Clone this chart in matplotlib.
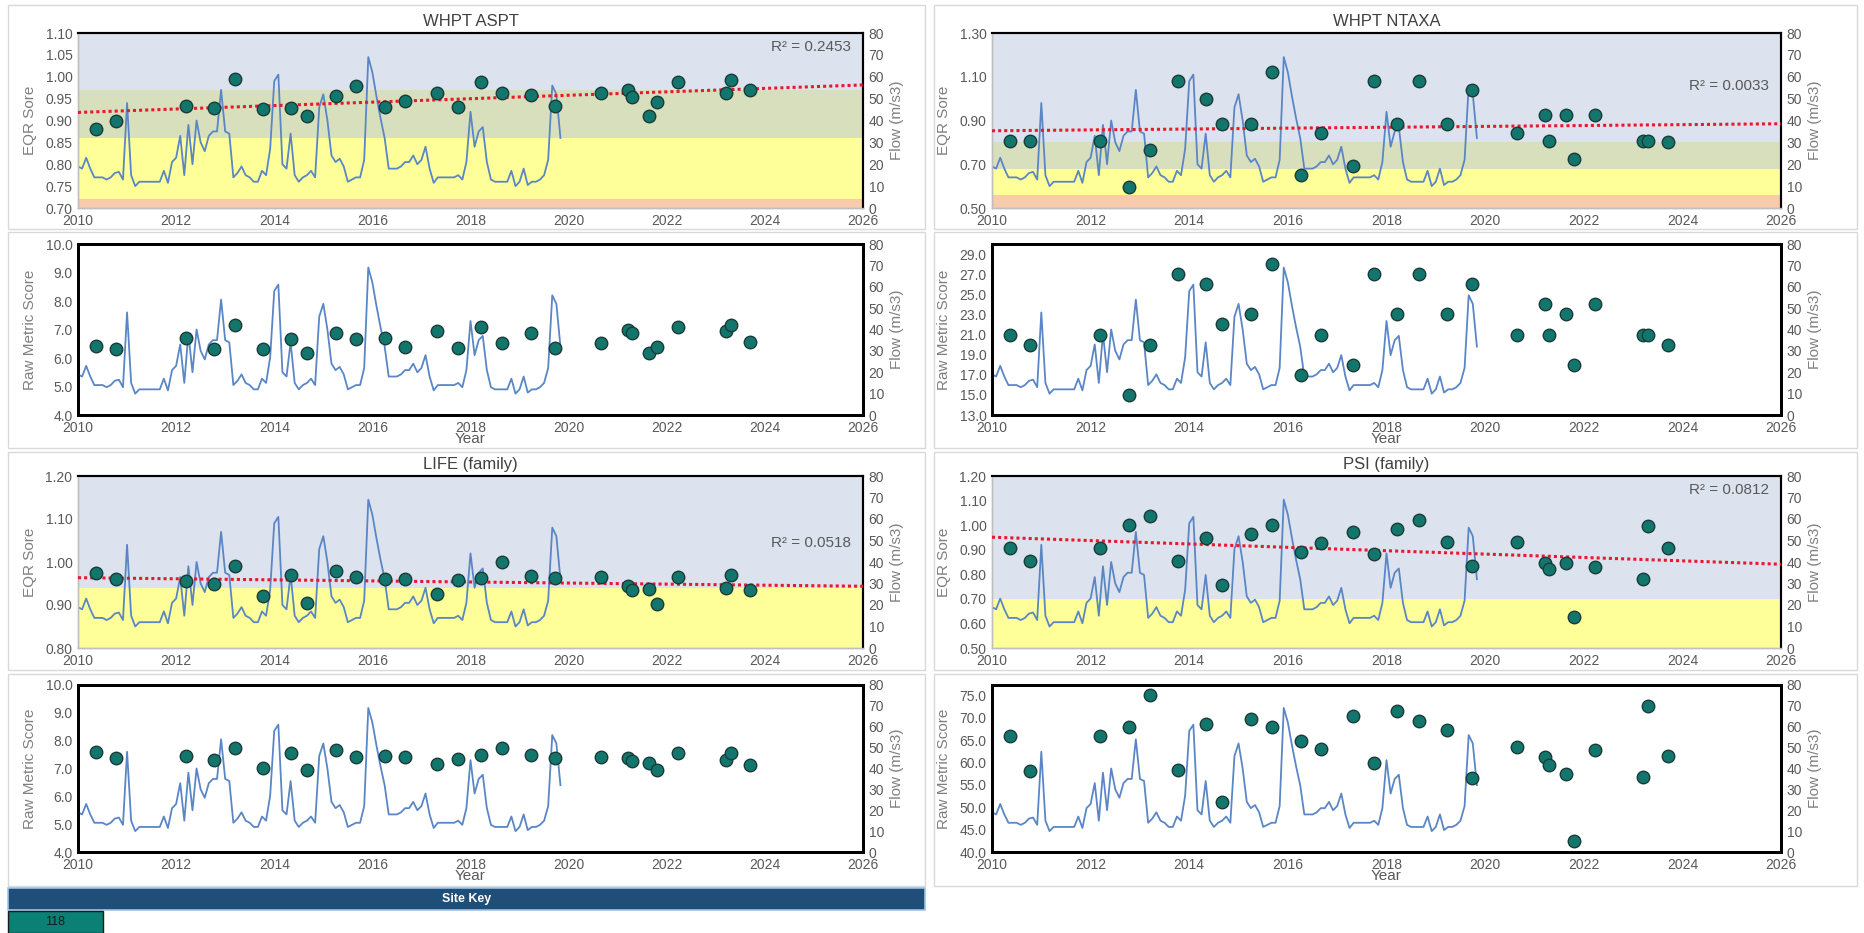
import numpy as np
import matplotlib.pyplot as plt
from matplotlib.patches import Rectangle

plt.rcParams['font.family'] = ['Liberation Sans Narrow', 'Liberation Sans', 'DejaVu Sans']

# monthly flow (m/s3), Jan 2010 - Nov 2019
flow = [19, 18, 23, 18, 14, 14, 14, 13, 14, 16, 16.5, 13,
        48, 15, 10, 12, 12, 12, 12, 12, 12, 17, 11.5, 21,
        23, 33, 15, 38, 20, 40, 30, 26, 33, 35, 35, 54,
        35, 34, 14, 16, 19, 15, 14, 12, 12, 17, 15, 27,
        58, 61, 20, 18, 34, 15, 12, 14, 15, 17, 14, 46,
        52, 40, 24, 21, 22.5, 19, 12, 13, 14, 14, 22, 69,
        62, 51, 41, 32, 18, 18, 18, 19, 21, 21, 24, 20,
        22, 28, 18, 11.5, 14, 14, 14, 14, 14, 15, 13, 21,
        44, 28, 35, 37, 21, 13, 12, 12, 12, 12, 17, 10,
        12, 18, 10.5, 12, 12, 13, 15, 22, 56, 52, 32]
flow_years = 2010 + np.arange(len(flow)) / 12

# sample dates (decimal years)
sample_years = [2010.37, 2010.78, 2012.2, 2012.77, 2013.2, 2013.77, 2014.34, 2014.67,
                2015.26, 2015.67, 2016.26, 2016.67, 2017.32, 2017.74, 2018.22, 2018.65,
                2019.23, 2019.73, 2020.65, 2021.22, 2021.3, 2021.63, 2021.8, 2022.22,
                2023.2, 2023.3, 2023.7]

aspt_eqr = [0.88, 0.90, 0.934, 0.929, 0.996, 0.926, 0.928, 0.91, 0.955, 0.98, 0.932, 0.944,
            0.962, 0.932, 0.987, 0.964, 0.959, 0.934, 0.963, 0.97, 0.954, 0.91, 0.943, 0.987,
            0.964, 0.993, 0.97]
aspt_raw = [6.42, 6.30, 6.69, 6.31, 7.16, 6.31, 6.67, 6.16, 6.87, 6.66, 6.69, 6.37,
            6.93, 6.36, 7.08, 6.51, 6.89, 6.35, 6.51, 6.99, 6.87, 6.18, 6.37, 7.08,
            6.96, 7.16, 6.57]

ntaxa_eqr = [0.805, 0.805, 0.805, 0.598, 0.764, 1.08, 0.998, 0.882, 0.882, 1.122, 0.651, 0.843,
             0.693, 1.08, 0.882, 1.08, 0.882, 1.041, 0.843, 0.923, 0.805, 0.923, 0.724, 0.923,
             0.805, 0.805, 0.80]
ntaxa_raw = [21, 20, 21, 15, 20, 27, 26, 22, 23, 28, 17, 21, 18, 27, 23, 27, 23, 26,
             21, 24, 21, 23, 18, 24, 21, 21, 20]

life_eqr = [0.975, 0.96, 0.955, 0.95, 0.99, 0.92, 0.97, 0.905, 0.98, 0.965, 0.96, 0.96,
            0.925, 0.958, 0.962, 1.0, 0.967, 0.962, 0.965, 0.945, 0.935, 0.937, 0.902, 0.965,
            0.94, 0.97, 0.935]
life_raw = [7.6, 7.36, 7.44, 7.3, 7.72, 7.02, 7.56, 6.94, 7.66, 7.4, 7.44, 7.4,
            7.16, 7.34, 7.5, 7.72, 7.5, 7.36, 7.4, 7.36, 7.28, 7.18, 6.94, 7.54,
            7.3, 7.56, 7.12]

psi_eqr = [0.909, 0.853, 0.909, 1.0, 1.036, 0.856, 0.949, 0.756, 0.964, 1.0, 0.889, 0.927,
           0.973, 0.883, 0.984, 1.019, 0.931, 0.833, 0.931, 0.847, 0.82, 0.847, 0.627, 0.831,
           0.78, 0.997, 0.909]
psi_raw = [65.9, 58.0, 65.8, 68.0, 75.0, 58.4, 68.7, 51.2, 69.7, 68.0, 64.7, 63.0,
           70.4, 59.9, 71.6, 69.3, 67.3, 56.5, 63.4, 61.2, 59.5, 57.5, 42.4, 62.8,
           56.7, 72.6, 61.5]

BLUE, GREEN, YELLOW, ORANGE = '#dce3ee', '#d8dfbd', '#ffff99', '#f8cbad'
GREY = '#7f7f7f'
TXT = '#595959'
DOT_FACE, DOT_EDGE = '#12766c', '#1b3b38'
FLOW_C = '#5a86c5'

fig = plt.figure(figsize=(18.65, 9.33), dpi=100)
W, H = 1865, 933


def frac(x0, y0, x1, y1):
    return [x0 / W, 1 - y1 / H, (x1 - x0) / W, (y1 - y0) / H]


def common(ax, ax2, ax3, ylim):
    ax.set_xlim(2010, 2026)
    ax.set_xticks(range(2010, 2027, 2))
    ax.set_ylim(ylim)
    ax3.set_ylim(ylim)
    ax3.axis('off')
    ax2.set_ylim(0, 80)
    ax2.set_yticks(range(0, 81, 10))
    for a in (ax, ax2):
        a.tick_params(length=0, labelsize=10, colors=TXT, pad=4)
    ax2.set_ylabel('Flow (m/s3)', color=GREY, fontsize=11, labelpad=4)
    ax2.plot(flow_years, flow, color=FLOW_C, lw=1.3)


def dots(ax3, vals):
    ax3.plot(sample_years, vals, 'o', ms=9, mfc=DOT_FACE, mec=DOT_EDGE, mew=1.0, zorder=5)


def eqr_panel(box, title, edges, colors, ylim, yticks, vals, r2, r2_y):
    ax = fig.add_axes(frac(*box))
    for lo, hi, c in zip(edges[:-1], edges[1:], colors):
        ax.axhspan(lo, hi, color=c, lw=0, zorder=0)
    ax2 = ax.twinx()
    ax3 = ax.twinx()
    common(ax, ax2, ax3, ylim)
    ax.set_yticks(yticks)
    ax.set_yticklabels([f'{t:.2f}' for t in yticks])
    ax.set_ylabel('EQR Sore', color=GREY, fontsize=11, labelpad=6)
    ax.set_title(title, fontsize=12, color='#404040', pad=5)
    for a in (ax, ax2, ax3):
        for s in ('left', 'bottom'):
            a.spines[s].set_color('#bfbfbf')
            a.spines[s].set_linewidth(1)
        for s in ('top', 'right'):
            a.spines[s].set_color('black')
            a.spines[s].set_linewidth(1.5)
    coef = np.polyfit(sample_years, vals, 1)
    xs = np.array([2010, 2026])
    ax3.plot(xs, np.polyval(coef, xs), color='#e8192c', lw=2.2, ls=(0, (1, 1)), zorder=4)
    dots(ax3, vals)
    ax3.text(0.985, r2_y, f'R\u00b2 = {r2}', transform=ax3.transAxes, ha='right', va='center',
             fontsize=11, color=TXT)


def raw_panel(box, ylim, yticks, vals):
    ax = fig.add_axes(frac(*box))
    ax2 = ax.twinx()
    ax3 = ax.twinx()
    common(ax, ax2, ax3, ylim)
    ax.set_yticks(yticks)
    ax.set_yticklabels([f'{t:.1f}' for t in yticks])
    ax.set_ylabel('Raw Metric Score', color=GREY, fontsize=11, labelpad=6)
    ax.set_xlabel('Year', color=TXT, fontsize=11, labelpad=-2)
    for a in (ax, ax2, ax3):
        for s in a.spines.values():
            s.set_color('black')
            s.set_linewidth(2)
    dots(ax3, vals)


LX0, LX1 = 78, 863
RX0, RX1 = 992, 1781
R1, R2, R3, R4 = (33, 208), (244, 415), (476, 648), (685, 852)

eqr_panel((LX0, R1[0], LX1, R1[1]), 'WHPT ASPT', [0.70, 0.72, 0.86, 0.97, 1.10],
          [ORANGE, YELLOW, GREEN, BLUE], (0.70, 1.10), np.arange(0.70, 1.101, 0.05),
          aspt_eqr, '0.2453', 0.92)
raw_panel((LX0, R2[0], LX1, R2[1]), (4.0, 10.0), np.arange(4.0, 10.01, 1.0), aspt_raw)

eqr_panel((RX0, R1[0], RX1, R1[1]), 'WHPT NTAXA', [0.50, 0.56, 0.68, 0.80, 1.30],
          [ORANGE, YELLOW, GREEN, BLUE], (0.50, 1.30), np.arange(0.50, 1.301, 0.20),
          ntaxa_eqr, '0.0033', 0.70)
raw_panel((RX0, R2[0], RX1, R2[1]), (13.0, 30.0), np.arange(13.0, 29.01, 2.0), ntaxa_raw)

eqr_panel((LX0, R3[0], LX1, R3[1]), 'LIFE (family)', [0.80, 0.94, 1.20],
          [YELLOW, BLUE], (0.80, 1.20), np.arange(0.80, 1.201, 0.10),
          life_eqr, '0.0518', 0.61)
raw_panel((LX0, R4[0], LX1, R4[1]), (4.0, 10.0), np.arange(4.0, 10.01, 1.0), life_raw)

eqr_panel((RX0, R3[0], RX1, R3[1]), 'PSI (family)', [0.50, 0.70, 1.20],
          [YELLOW, BLUE], (0.50, 1.20), np.arange(0.50, 1.201, 0.10),
          psi_eqr, '0.0812', 0.92)
raw_panel((RX0, R4[0], RX1, R4[1]), (40.0, 77.3), np.arange(40.0, 75.01, 5.0), psi_raw)

# chart area borders
for (x0, x1) in ((8, 925), (934, 1857)):
    for (y0, y1) in ((5, 229), (232, 448), (452, 670), (674, 886)):
        fig.patches.append(Rectangle((x0 / W, 1 - y1 / H), (x1 - x0) / W, (y1 - y0) / H,
                                     transform=fig.transFigure, fill=False,
                                     ec='#d9d9d9', lw=1))

# site key
fig.patches.append(Rectangle((8 / W, 1 - 910 / H), 917 / W, 22 / H, transform=fig.transFigure,
                             fc='#1f4e79', ec='#9dc3e6', lw=1.2))
fig.text((8 + 925) / 2 / W, 1 - 899 / H, 'Site Key', color='white', fontsize=9,
         fontweight='bold', ha='center', va='center')
fig.patches.append(Rectangle((8 / W, 0), 95 / W, 22 / H, transform=fig.transFigure,
                             fc='#0b8074', ec='#1a1a1a', lw=1))
fig.text(55 / W, 11 / H, '118', color='#1a1a1a', fontsize=9, ha='center', va='center')

fig.savefig('out.png', dpi=100)
